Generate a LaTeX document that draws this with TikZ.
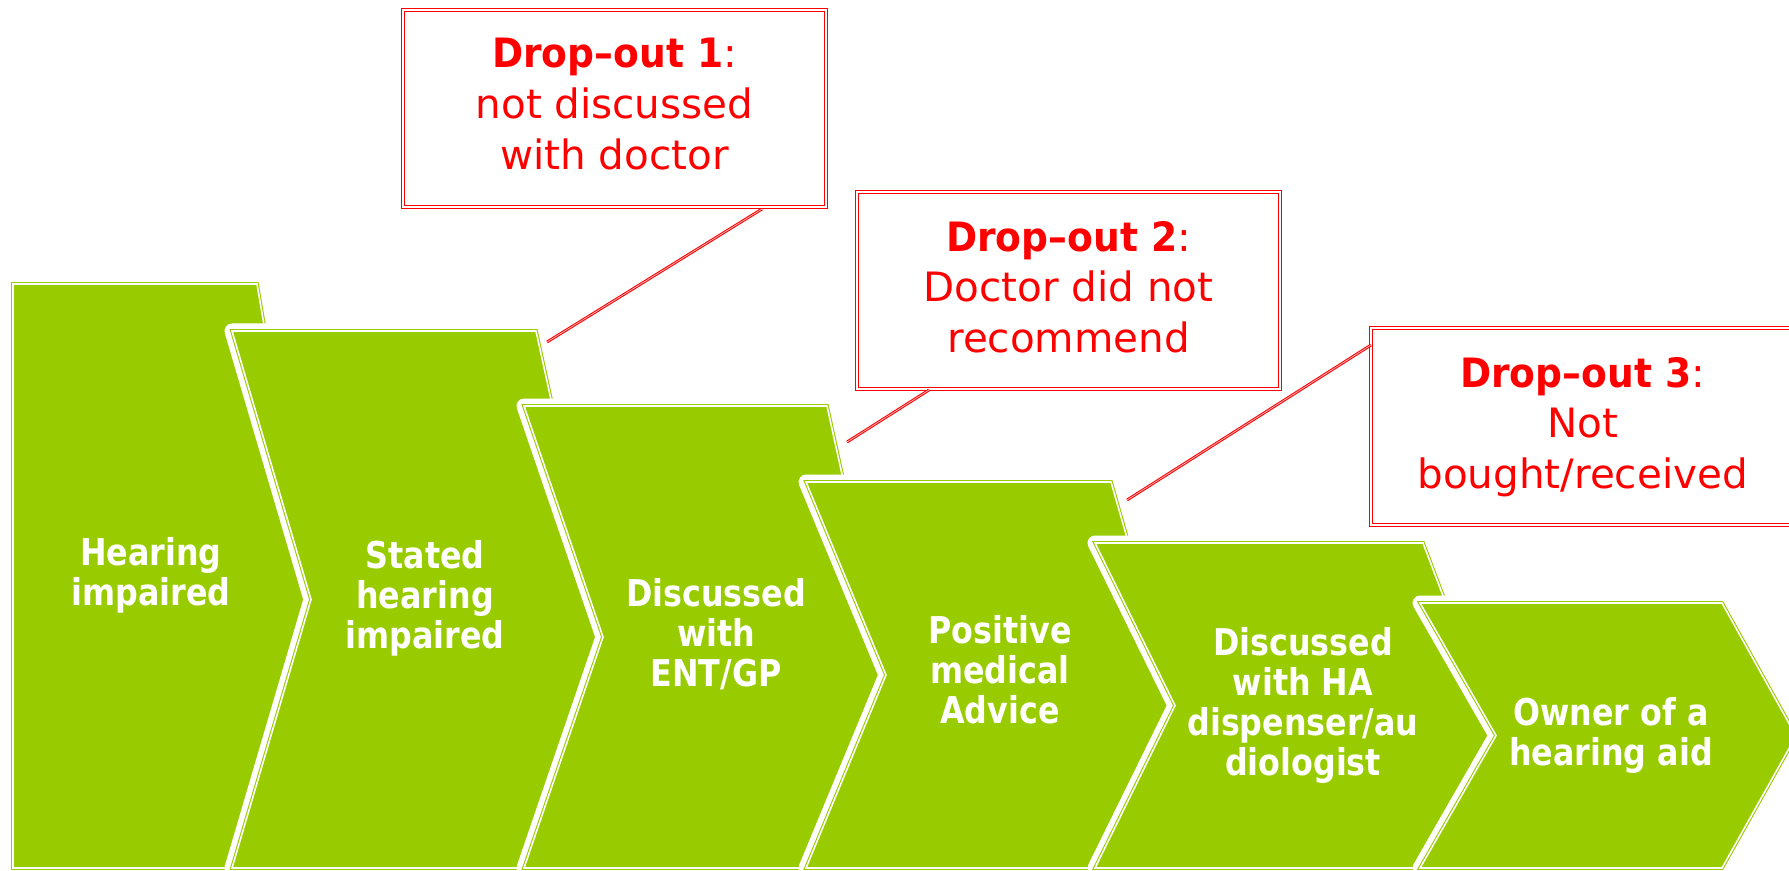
\documentclass[tikz,border=0pt]{standalone}
\usepackage{fontspec}
\setmainfont{DejaVu Sans}
\newfontfamily\wfont[FakeStretch=0.86]{DejaVu Sans}
\newfontfamily\rbfont[FakeStretch=0.93]{DejaVu Sans}
\definecolor{hgreen}{RGB}{153,204,0}
\definecolor{hred}{RGB}{255,0,0}
\begin{document}
\begin{tikzpicture}[x=0.01cm,y=-0.01cm,
  stage/.style={fill=hgreen, draw=hgreen, double=white, line width=0.3pt, double distance=0.45pt, line join=miter},
  halo/.style={draw=white, line width=0.15cm, line join=round},
  stagetext/.style={text=white, font=\wfont\bfseries\fontsize{10.5pt}{11.38pt}\selectfont, inner sep=0pt, anchor=base},
  dropbox/.style={draw=hred, double=white, line width=0.35pt, double distance=0.4pt, minimum width=4.23cm, minimum height=1.97cm, inner sep=0pt},
  droptext/.style={text=hred, font=\fontsize{11.5pt}{14.5pt}\selectfont, inner sep=0pt, anchor=base},
  connector/.style={draw=hred, double=hred!25, line width=0.3pt, double distance=0.2pt}]
\clip (0,0) rectangle (1789,870);
% shape corner points
\coordinate (t1) at (311,599.5);
\coordinate (t2) at (603,637);
\coordinate (t3) at (886,675);
\coordinate (t4) at (1175,705.5);
\coordinate (t5) at (1496,735.5);
\coordinate (t6) at (1796,736);
% stage 1
\path[stage] (13,284) -- (257,284) -- (t1) -- (232,868) -- (13,868) -- cycle;
% stage 2
\path[halo] (232,331) -- (536,331) -- (t2) -- (524,868) -- (232,868) -- (t1) -- cycle;
\path[stage] (232,331) -- (536,331) -- (t2) -- (524,868) -- (232,868) -- (t1) -- cycle;
% stage 3
\path[halo] (524,406) -- (827,406) -- (t3) -- (806,868) -- (524,868) -- (t2) -- cycle;
\path[stage] (524,406) -- (827,406) -- (t3) -- (806,868) -- (524,868) -- (t2) -- cycle;
% stage 4
\path[halo] (806,482) -- (1111,482) -- (t4) -- (1095,868) -- (806,868) -- (t3) -- cycle;
\path[stage] (806,482) -- (1111,482) -- (t4) -- (1095,868) -- (806,868) -- (t3) -- cycle;
% stage 5
\path[halo] (1095,543) -- (1423,543) -- (t5) -- (1420,868) -- (1095,868) -- (t4) -- cycle;
\path[stage] (1095,543) -- (1423,543) -- (t5) -- (1420,868) -- (1095,868) -- (t4) -- cycle;
% stage 6
\path[halo] (1420,603) -- (1722,603) -- (t6) -- (1722,868) -- (1420,868) -- (t5) -- cycle;
\path[stage] (1420,603) -- (1722,603) -- (t6) -- (1722,868) -- (1420,868) -- (t5) -- cycle;
% stage texts
\node[stagetext] (s1) at (151,565) {\begin{tabular}[t]{@{}c@{}}Hearing\\impaired\end{tabular}};
\node[stagetext] (s2) at (425,568) {\begin{tabular}[t]{@{}c@{}}Stated\\hearing\\impaired\end{tabular}};
\node[stagetext] (s3) at (716,606) {\begin{tabular}[t]{@{}c@{}}Discussed\\with\\ENT/GP\end{tabular}};
\node[stagetext] (s4) at (1000,643) {\begin{tabular}[t]{@{}c@{}}Positive\\medical\\Advice\end{tabular}};
\node[stagetext] (s5) at (1303,655) {\begin{tabular}[t]{@{}c@{}}Discussed\\with HA\\dispenser/au\\diologist\end{tabular}};
\node[stagetext] (s6) at (1611,725) {\begin{tabular}[t]{@{}c@{}}Owner of a\\hearing aid\end{tabular}};
% drop-out boxes
\node[dropbox] (box1) at (614.5,108.5) {};
\node[dropbox] (box2) at (1068.5,290.5) {};
\node[dropbox] (box3) at (1582.5,426.5) {};
\node[droptext] (d1) at (614.5,68) {\begin{tabular}[t]{@{}c@{}}{\rbfont\bfseries Drop–out 1}:\\not discussed\\with doctor\end{tabular}};
\node[droptext] (d2) at (1068.5,251) {\begin{tabular}[t]{@{}c@{}}{\rbfont\bfseries Drop–out 2}:\\Doctor did not\\recommend\end{tabular}};
\node[droptext] (d3) at (1582.5,387) {\begin{tabular}[t]{@{}c@{}}{\rbfont\bfseries Drop–out 3}:\\Not\\bought/received\end{tabular}};
% connectors
\coordinate (c1a) at (762,209);
\coordinate (c1b) at (547,342);
\coordinate (c2a) at (929,390);
\coordinate (c2b) at (847,442);
\coordinate (c3a) at (1371,345);
\coordinate (c3b) at (1127,500);
\draw[connector] (c1a) -- (c1b);
\draw[connector] (c2a) -- (c2b);
\draw[connector] (c3a) -- (c3b);
\end{tikzpicture}
\end{document}
